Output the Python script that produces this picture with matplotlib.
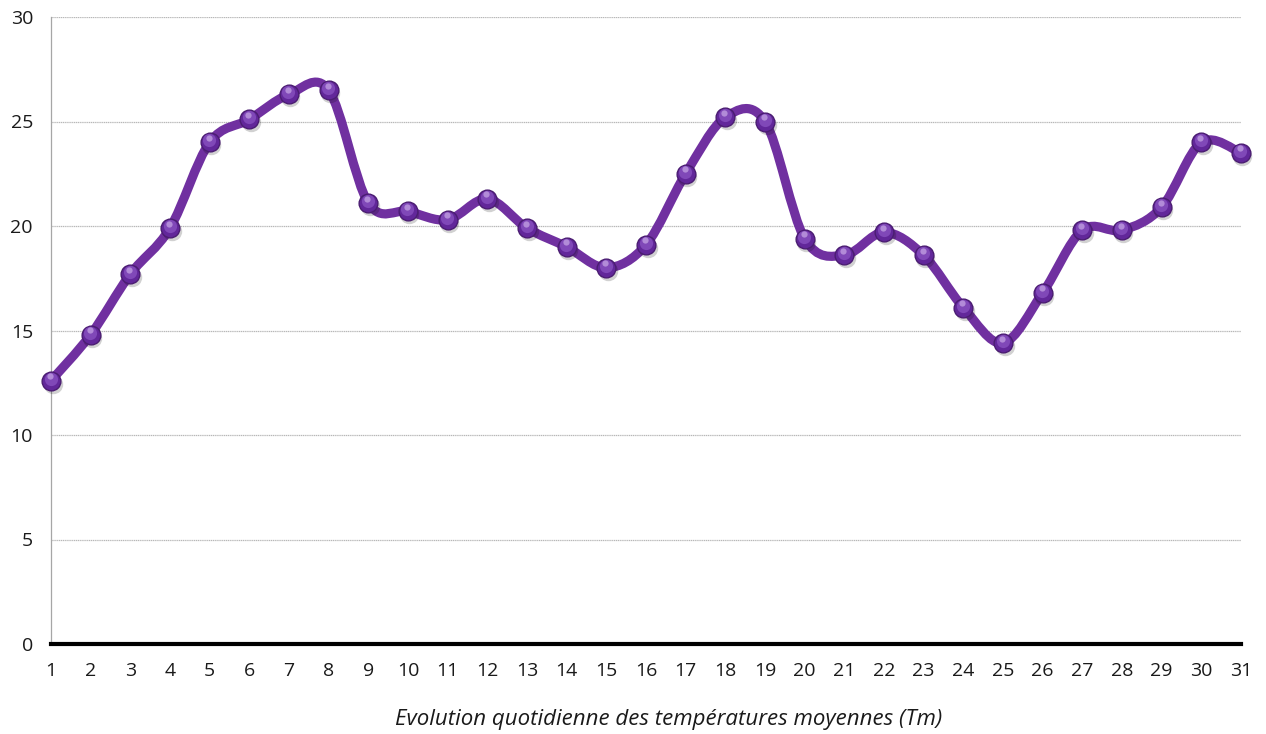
import matplotlib
matplotlib.use("Agg")
import matplotlib.pyplot as plt
from matplotlib.path import Path
from matplotlib.patches import PathPatch
import matplotlib.transforms as mtransforms
import numpy as np

days = list(range(1, 32))
tm = [12.6, 14.8, 17.7, 19.9, 24.0, 25.1, 26.3, 26.5, 21.1, 20.7,
      20.3, 21.3, 19.9, 19.0, 18.0, 19.1, 22.5, 25.2, 25.0, 19.4,
      18.6, 19.7, 18.6, 16.1, 14.4, 16.8, 19.8, 19.8, 20.9, 24.0, 23.5]
y_ticks = [0, 5, 10, 15, 20, 25, 30]
x_label = "Evolution quotidienne des températures moyennes (Tm)"

purple = "#7030A0"

plt.rcParams['font.family'] = ['Open Sans', 'DejaVu Sans']

fig = plt.figure(figsize=(12.66, 7.34), dpi=100)
ax = fig.add_axes([51/1266, 1-644/734, (1241-51)/1266, (644-17)/734])

ax.set_xlim(1, 31)
ax.set_ylim(0, 30)
ax.set_yticks(y_ticks)
ax.set_xticks(days)
ax.grid(axis='y', color='#b8b8b8', linewidth=0.9, linestyle=(0, (1, 0.5)))
ax.set_axisbelow(True)
for s in ['top', 'right']:
    ax.spines[s].set_visible(False)
ax.spines['left'].set_color('#a6a6a6')
ax.spines['left'].set_linewidth(0.9)
ax.spines['bottom'].set_color('black')
ax.spines['bottom'].set_linewidth(3.0)
ax.spines['bottom'].set_zorder(5)
ax.tick_params(axis='both', length=0, labelsize=14, colors='#1a1a1a')
ax.tick_params(axis='y', pad=13)
ax.tick_params(axis='x', pad=13)

# smoothed line (Catmull-Rom as cubic Bezier, like Excel's smoothed line)
xs = np.array(days, dtype=float)
ys = np.array(tm, dtype=float)
P = np.column_stack([xs, ys])
n = len(P)
verts = [tuple(P[0])]
codes = [Path.MOVETO]
for i in range(n - 1):
    p0 = P[i - 1] if i > 0 else P[i]
    p1 = P[i]
    p2 = P[i + 1]
    p3 = P[i + 2] if i + 2 < n else P[i + 1]
    c1 = p1 + (p2 - p0) / 6.0
    c2 = p2 - (p3 - p1) / 6.0
    verts += [tuple(c1), tuple(c2), tuple(p2)]
    codes += [Path.CURVE4] * 3
path = Path(verts, codes)
ax.add_patch(PathPatch(path, facecolor='none', edgecolor=purple, lw=6.6,
                       capstyle='round', joinstyle='round', zorder=3,
                       clip_on=False))

# markers: shadow, body, highlight
shadow_tr = mtransforms.offset_copy(ax.transData, fig=fig, x=1.5, y=-3, units='dots')
ax.plot(days, tm, 'o', ms=14, color='#000000', alpha=0.18, mec='none',
        transform=shadow_tr, zorder=3.5, clip_on=False)
ax.plot(days, tm, 'o', ms=13.5, color='#62279a', mec='#4b1d72', mew=1.0,
        zorder=4, clip_on=False)
hl_tr = mtransforms.offset_copy(ax.transData, fig=fig, x=-0.5, y=2, units='dots')
ax.plot(days, tm, 'o', ms=9.5, color='#8048b8', mec='none',
        transform=hl_tr, zorder=4.1, clip_on=False)
hl2_tr = mtransforms.offset_copy(ax.transData, fig=fig, x=-1, y=4.5, units='dots')
ax.plot(days, tm, 'o', ms=4.5, color='#b893dc', mec='none', alpha=0.9,
        transform=hl2_tr, zorder=4.2, clip_on=False)

fig.text(669/1266, 1-719/734, x_label, ha='center', va='center',
         fontsize=16, style='italic', color='#1a1a1a')

fig.savefig('out.png', dpi=100, facecolor='white')
